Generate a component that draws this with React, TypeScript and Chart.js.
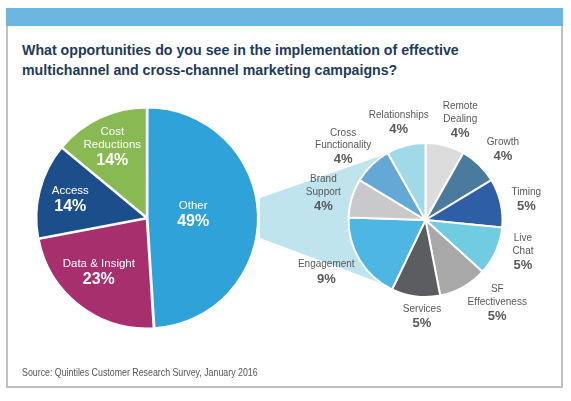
import React, { useEffect, useRef } from "react";
import { Chart, registerables } from "chart.js";

Chart.register(...registerables);

const W = 571;
const H = 401;

const TITLE_LINES = [
  "What opportunities do you see in the implementation of effective",
  "multichannel and cross-channel marketing campaigns?",
];
const SOURCE = "Source: Quintiles Customer Research Survey, January 2016";

const mainLabels = [["Other"], ["Data & Insight"], ["Access"], ["Cost", "Reductions"]];
const mainValues = [49, 23, 14, 14];
const mainColors = ["#2fa3d9", "#a82f6e", "#1b4e8b", "#89b952"];

const otherLabels = [
  ["Remote", "Dealing"],
  ["Growth"],
  ["Timing"],
  ["Live", "Chat"],
  ["SF", "Effectiveness"],
  ["Services"],
  ["Engagement"],
  ["Brand", "Support"],
  ["Cross", "Functionality"],
  ["Relationships"],
];
const otherValues = [4, 4, 5, 5, 5, 5, 9, 4, 4, 4];
const otherColors = [
  "#dcdcdd", "#4a7b9e", "#2e5ea6", "#70cce0", "#a8a8a9",
  "#5b5d60", "#4db6e3", "#c9c9cb", "#64a8d6", "#a0d9e8",
];

const sliceLabels = {
  id: "sliceLabels",
  afterDatasetsDraw(chart: any, _a: any, opts: any) {
    const meta = chart.getDatasetMeta(0);
    const data = chart.data.datasets[0].data;
    const ctx = chart.ctx;
    ctx.save();
    ctx.textAlign = "center";
    ctx.textBaseline = "middle";
    ctx.fillStyle = opts.color;
    meta.data.forEach((arc: any, i: number) => {
      const p = arc.getProps(["x", "y", "startAngle", "endAngle", "outerRadius"], true);
      const mid = (p.startAngle + p.endAngle) / 2;
      const f = opts.radius[i];
      const n = (opts.nudge && opts.nudge[i]) || [0, 0];
      const px = p.x + Math.cos(mid) * p.outerRadius * f + n[0];
      const py = p.y + Math.sin(mid) * p.outerRadius * f + n[1];
      const lines: string[] = chart.data.labels[i];
      const total = lines.length * opts.nameLH + opts.pctLH;
      let ty = py - total / 2;
      ctx.font = opts.nameFont;
      lines.forEach((l) => {
        ctx.fillText(l, px, ty + opts.nameLH / 2);
        ty += opts.nameLH;
      });
      ctx.font = opts.pctFont;
      ctx.fillText(data[i] + "%", px, ty + opts.pctLH / 2);
    });
    ctx.restore();
  },
};

const callout = {
  id: "callout",
  beforeDatasetsDraw(chart: any, _a: any, opts: any) {
    const ctx = chart.ctx;
    const pts: number[][] = opts.points;
    ctx.save();
    ctx.fillStyle = opts.color;
    ctx.beginPath();
    pts.forEach((pt, i) => (i ? ctx.lineTo(pt[0], pt[1]) : ctx.moveTo(pt[0], pt[1])));
    ctx.closePath();
    ctx.fill();
    ctx.restore();
  },
};

const FONT = "'Liberation Sans', Arial, sans-serif";

export default function App() {
  const leftRef = useRef<HTMLCanvasElement>(null);
  const rightRef = useRef<HTMLCanvasElement>(null);

  useEffect(() => {
    const left = new Chart(leftRef.current!, {
      type: "pie",
      data: {
        labels: mainLabels as any,
        datasets: [
          {
            data: mainValues,
            backgroundColor: mainColors,
            borderColor: "#ffffff",
            borderWidth: 2,
            offset: 2,
          },
        ],
      },
      options: {
        responsive: false,
        animation: false,
        layout: { padding: { left: 35, top: 106, right: W - 259, bottom: H - 330 } },
        plugins: {
          legend: { display: false },
          tooltip: { enabled: false },
          sliceLabels: {
            color: "#ffffff",
            nameFont: `11.5px ${FONT}`,
            pctFont: `bold 16px ${FONT}`,
            nameLH: 13.5,
            pctLH: 18,
            radius: [0.42, 0.67, 0.72, 0.72],
            nudge: [[0, -2], [-3, -3], [0, 2], [-1, 1]],
          },
        } as any,
      },
      plugins: [sliceLabels],
    });

    const right = new Chart(rightRef.current!, {
      type: "pie",
      data: {
        labels: otherLabels as any,
        datasets: [
          {
            data: otherValues,
            backgroundColor: otherColors,
            borderColor: "#ffffff",
            borderWidth: 2,
          },
        ],
      },
      options: {
        responsive: false,
        animation: false,
        layout: { padding: { left: 347.5, top: 142, right: W - 503.5, bottom: H - 298 } },
        plugins: {
          legend: { display: false },
          tooltip: { enabled: false },
          callout: {
            color: "#bfe4ee",
            points: [[260, 198], [392, 152], [425, 220], [394, 288], [260, 238]],
          },
          sliceLabels: {
            color: "#595959",
            nameFont: `10px ${FONT}`,
            pctFont: `bold 13px ${FONT}`,
            nameLH: 12.5,
            pctLH: 16,
            radius: [1.37, 1.37, 1.37, 1.37, 1.37, 1.37, 1.37, 1.37, 1.37, 1.37],
            nudge: [[8, 3], [4, 6], [-2, 4], [1, -10], [20, -8], [10, -7], [-9, -2], [-1, 4], [-9, 3], [0, 5]],
          },
        } as any,
      },
      plugins: [callout, sliceLabels],
    });

    return () => {
      left.destroy();
      right.destroy();
    };
  }, []);

  return (
    <div style={{ position: "fixed", left: 0, top: 0, width: W, height: H, background: "#ffffff", overflow: "hidden" }}>
      <div style={{ position: "absolute", left: 6, top: 8, width: 557, height: 18, background: "#6cb6e0" }} />
      <div
        style={{
          position: "absolute",
          left: 6,
          top: 26,
          width: 557,
          height: 362,
          boxSizing: "border-box",
          borderLeft: "2px solid #c0bfc4",
          borderRight: "2px solid #c0bfc4",
          borderBottom: "2px solid #c0bfc4",
        }}
      />
      <div
        style={{
          position: "absolute",
          left: 22,
          top: 40,
          font: `bold 14.2px ${FONT}`,
          lineHeight: "20px",
          color: "#1d3a60",
          whiteSpace: "nowrap",
        }}
      >
        {TITLE_LINES.map((t) => (
          <div key={t}>{t}</div>
        ))}
      </div>
      <canvas ref={leftRef} width={W} height={H} style={{ position: "absolute", left: 0, top: 0 }} />
      <canvas ref={rightRef} width={W} height={H} style={{ position: "absolute", left: 0, top: 0 }} />
      <div
        style={{
          position: "absolute",
          left: 22,
          top: 366,
          font: `10.5px ${FONT}`,
          color: "#555555",
          whiteSpace: "nowrap",
          transform: "scaleX(0.84)",
          transformOrigin: "0 0",
        }}
      >
        {SOURCE}
      </div>
    </div>
  );
}
